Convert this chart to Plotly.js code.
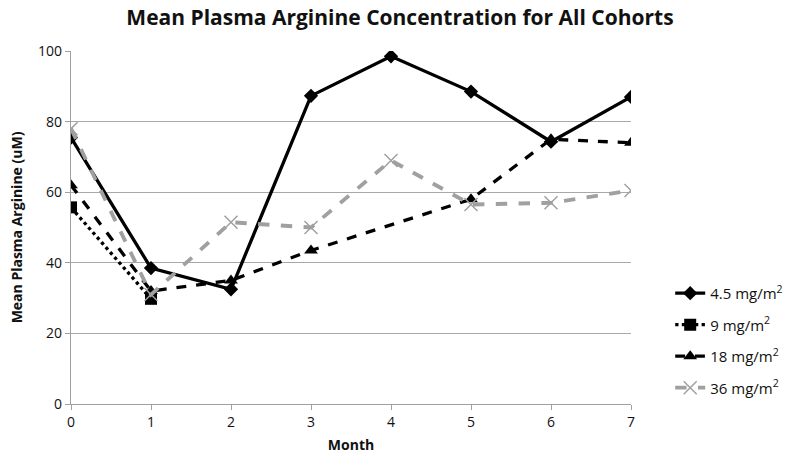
<!DOCTYPE html>
<html><head><meta charset="utf-8">
<script src="https://cdn.plot.ly/plotly-3.0.1.min.js"></script>
<style>body{margin:0}#c{width:800px;height:465px}</style>
</head><body><div id="c"></div>
<script>
const months = [0,1,2,3,4,5,6,7];
const names = ["4.5 mg/m<sup>2</sup>","9 mg/m<sup>2</sup>","18 mg/m<sup>2</sup>","36 mg/m<sup>2</sup>"];
const s45 = [75.5,38.5,32.5,87.3,98.5,88.5,74.3,87];
const s9 = [55.7,29.8,null,null,null,null,null,null];
const s18 = [62,32,35,43.5,null,58,75,74];
const s36 = [78,31,51.5,50,69,56.5,57,60.5];

const traces = [
 {x:months,y:s45,name:names[0],mode:'lines+markers',legendgroup:'a',
  line:{color:'#000',width:3.3},marker:{symbol:'diamond',size:11,color:'#000'}},
 {x:months,y:s9,name:names[1],mode:'lines+markers',legendgroup:'b',
  line:{color:'#000',width:3.3,dash:'dot'},marker:{symbol:'square',size:12,color:'#000'}},
 {x:months,y:s18,name:names[2],mode:'lines+markers',legendgroup:'c',connectgaps:true,
  line:{color:'#000',width:3.3,dash:'dash'},marker:{symbol:'triangle-up',size:12,color:'#000'}},
 {x:months,y:s36,name:names[3],mode:'lines+markers',legendgroup:'d',
  line:{color:'#a0a0a0',width:3.8,dash:'dash'},marker:{symbol:'x-thin-open',size:13,color:'#a0a0a0',line:{color:'#a0a0a0',width:1.5}}}
];
const font = {family:'"Open Sans", Lato, sans-serif', color:'#111'};
const layout = {
 width:800,height:465,
 margin:{l:71,r:169,t:51,b:61},
 paper_bgcolor:'#fff',plot_bgcolor:'#fff',
 font:Object.assign({size:14},font),
 title:{text:'<b>Mean Plasma Arginine Concentration for All Cohorts</b>',x:0.5,xanchor:'center',y:0.962,yanchor:'middle',font:{size:21,color:'#111',family:font.family}},
 xaxis:{range:[0,7],tickvals:months,ticks:'outside',ticklen:5,tickcolor:'#a0a0a0',showgrid:false,
   showline:true,linecolor:'#a0a0a0',linewidth:1.3,zeroline:false,tickfont:{size:14},
   title:{text:'<b>Month</b>',font:{size:14},standoff:10}},
 yaxis:{range:[0,100],dtick:20,ticks:'outside',ticklen:5,tickcolor:'#a0a0a0',showgrid:true,gridcolor:'#a8a8a8',gridwidth:1.3,
   showline:true,linecolor:'#a0a0a0',linewidth:1.3,zeroline:false,tickfont:{size:14},
   title:{text:'<b>Mean Plasma Arginine (uM)</b>',font:{size:14},standoff:12}},
 legend:{x:1.07,y:0.18,xanchor:'left',yanchor:'middle',font:{size:15},tracegroupgap:9,bgcolor:'rgba(0,0,0,0)'},
 showlegend:true
};
Plotly.newPlot('c',traces,layout,{displayModeBar:false,staticPlot:true});
</script></body></html>
